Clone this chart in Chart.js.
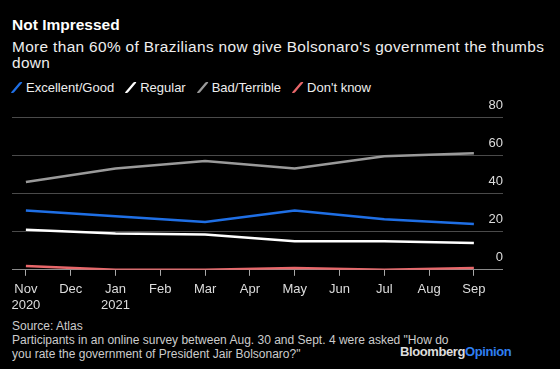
<!DOCTYPE html>
<html>
<head>
<meta charset="utf-8">
<script src="https://cdn.jsdelivr.net/npm/chart.js@4"></script>
<style>
  html, body { margin: 0; padding: 0; background: #000; }
  body { width: 560px; height: 369px; position: relative; overflow: hidden;
         font-family: "Liberation Sans", Arial, sans-serif; color: #fff; }
  #title { position: absolute; left: 12px; top: 16px; font-size: 15.5px; font-weight: bold; }
  #subtitle { position: absolute; left: 12px; top: 39px; width: 545px; font-size: 15.4px; letter-spacing: 0.35px; line-height: 16px; color: #eee; }
  #legend { position: absolute; left: 12px; top: 80px; font-size: 13px; color: #eee; white-space: nowrap; }
  #legend span.item { margin-right: 12px; }
  #legend i { display: inline-block; width: 3px; height: 11px; margin: 0 7px 0 4px; transform: skewX(-40deg) translateY(1px); border-radius: 1px; }
  #wrap { position: absolute; left: 0; top: 96px; width: 560px; height: 223px; }
  #foot { position: absolute; left: 12px; top: 319px; font-size: 12px; line-height: 14px; color: #ccc; }
  #logo { position: absolute; left: 400px; top: 344px; font-size: 13px; font-weight: bold; color: #ddd; letter-spacing: -0.4px; }
  #logo b { color: #2f7ff0; }
</style>
</head>
<body>
<div id="title">Not Impressed</div>
<div id="subtitle">More than 60% of Brazilians now give Bolsonaro's government the thumbs down</div>
<div id="legend"></div>
<div id="wrap"><canvas id="chart"></canvas></div>
<div id="foot">Source: Atlas<br>Participants in an online survey between Aug. 30 and Sept. 4 were asked "How do<br>you rate the government of President Jair Bolsonaro?"</div>
<div id="logo">Bloomberg<b>Opinion</b></div>
<script>
"use strict";

// month axis (monthly ticks), survey taken every other month
const monthLabels = [["Nov", "2020"], "Dec", ["Jan", "2021"], "Feb", "Mar", "Apr", "May", "Jun", "Jul", "Aug", "Sep"];
const surveyMonth = [0, 2, 4, 6, 8, 10];

const excellentGood = [31, 28, 25, 31, 26.5, 24];
const regular = [21, 19, 18.5, 15, 15, 14];
const badTerrible = [46, 53, 57, 53, 59.5, 61];
const dontKnow = [2, 0, 0, 1, 0, 1];

const yTicks = [0, 20, 40, 60, 80];

const series = [
  { label: "Excellent/Good", values: excellentGood, color: "#1f6fe5" },
  { label: "Regular", values: regular, color: "#ffffff" },
  { label: "Bad/Terrible", values: badTerrible, color: "#9a9a9a" },
  { label: "Don't know", values: dontKnow, color: "#e8676a" },
];

document.getElementById("legend").innerHTML = series.map((s) =>
  `<span class="item"><i style="background:${s.color}"></i>${s.label}</span>`).join("");

const pts = (vals) => vals.map((v, i) => ({ x: surveyMonth[i], y: v }));

new Chart(document.getElementById("chart"), {
  type: "line",
  data: {
    datasets: series.map((s) => ({
      label: s.label,
      data: pts(s.values),
      borderColor: s.color,
      backgroundColor: s.color,
      borderWidth: 2.5,
      pointRadius: 0,
      tension: 0,
    })).reverse(),
  },
  options: {
    responsive: true,
    maintainAspectRatio: false,
    animation: false,
    layout: { padding: { left: 12, right: 57, top: 21, bottom: 0 } },
    plugins: { legend: { display: false }, tooltip: { enabled: false } },
    scales: {
      x: {
        type: "linear",
        min: -0.31,
        max: 10.65,
        afterBuildTicks: (axis) => { axis.ticks = monthLabels.map((_, i) => ({ value: i })); },
        grid: { drawOnChartArea: false, drawTicks: true, tickLength: 6, color: "#aaa" },
        border: { display: false },
        ticks: {
          color: "#ddd",
          font: { family: "Liberation Sans, Arial", size: 13 },
          maxRotation: 0,
          autoSkip: false,
          padding: 6,
          callback: (v) => monthLabels[v],
        },
      },
      y: {
        position: "right",
        min: 0,
        max: 80,
        afterBuildTicks: (axis) => { axis.ticks = yTicks.map((v) => ({ value: v })); },
        grid: {
          drawTicks: false,
          color: (ctx) => ctx.tick && ctx.tick.value === 0 ? "#8a8a8a" : "#4a4a4a",
          lineWidth: 1,
        },
        border: { display: false },
        ticks: {
          mirror: true,
          padding: 0,
          labelOffset: -12,
          color: "#ddd",
          font: { family: "Liberation Sans, Arial", size: 13 },
        },
      },
    },
  },
});
</script>
</body>
</html>
